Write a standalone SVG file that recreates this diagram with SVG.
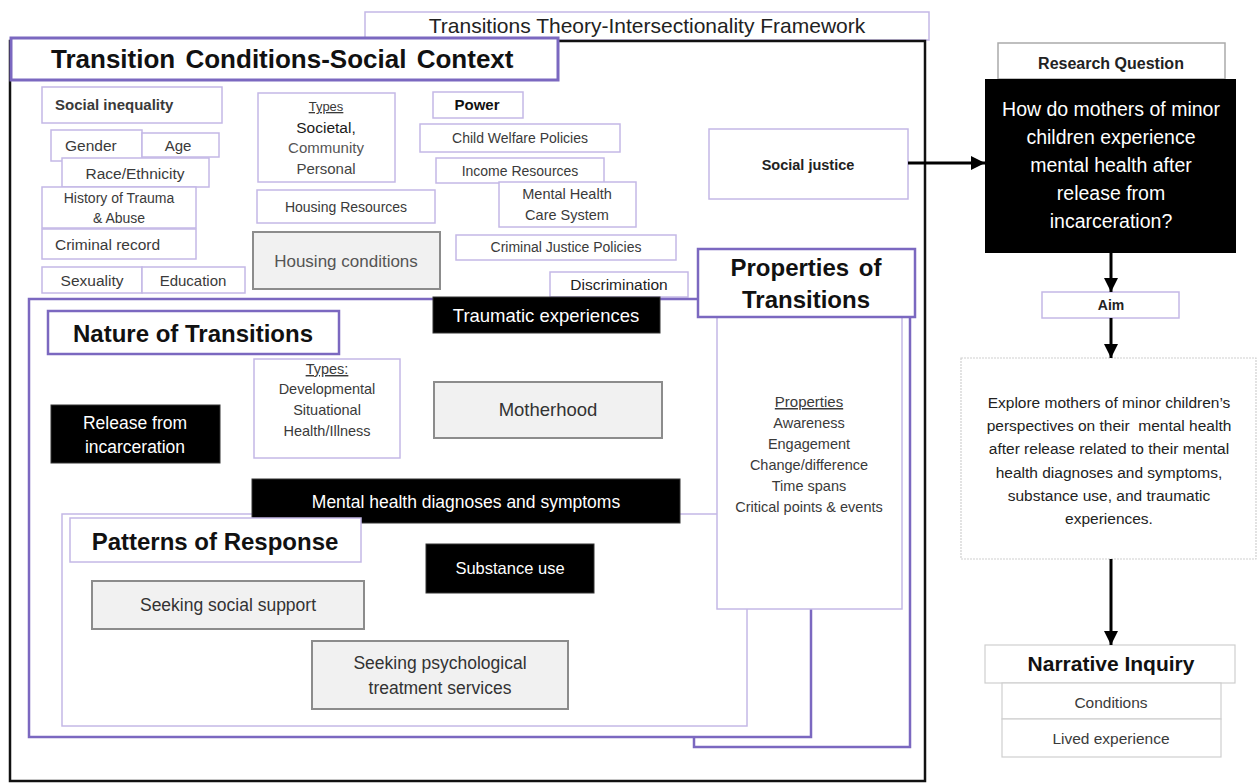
<svg xmlns="http://www.w3.org/2000/svg" width="1258" height="783" viewBox="0 0 1258 783">
<defs>
<style>
text{font-family:"Liberation Sans",Arial,sans-serif;}
.lp{fill:#fff;stroke:#c4b8e6;stroke-width:1.5;}
.pp{fill:#fff;stroke:#7b68c0;stroke-width:2.5;}
.gr{fill:#f1f1f1;stroke:#8c8c8c;stroke-width:2;}
.bk{fill:#000;stroke:#333;stroke-width:1;}
.gy{fill:#fff;stroke:#cfcfcf;stroke-width:1.2;}
.t{fill:#3a3a3a;text-anchor:middle;}
.ts{fill:#3a3a3a;text-anchor:start;}
.w{fill:#fff;text-anchor:middle;}
.hb{font-weight:bold;fill:#111;}
.con{stroke:#000;stroke-width:3;fill:none;}
</style>
<marker id="ah" markerUnits="userSpaceOnUse" markerWidth="15" markerHeight="15" refX="14" refY="7" orient="auto">
<path d="M0,0 L14,7 L0,14 z" fill="#000"/>
</marker>
</defs>
<rect width="1258" height="783" fill="#fff"/>

<g id="framework">
<rect x="365" y="12" width="564" height="28" class="lp"/>
<text x="647" y="33" class="t" font-size="21" style="fill:#222">Transitions Theory-Intersectionality Framework</text>
</g>
<g id="outer">
<rect x="10" y="41" width="915" height="740" fill="none" stroke="#111" stroke-width="2.5"/>
</g>
<g id="title">
<rect x="11" y="38" width="547" height="42" fill="#fff" stroke="#7b68c0" stroke-width="3"/>
<text x="51" y="68" class="hb" font-size="26" text-anchor="start" word-spacing="3">Transition Conditions-Social Context</text>
</g>

<g id="social-inequality"><rect x="42" y="87" width="180" height="36" class="lp"/><text x="55" y="110" class="ts" font-size="15" font-weight="bold">Social inequality</text></g>
<g id="gender"><rect x="51" y="130" width="91" height="31" class="lp"/><text x="65" y="151" class="ts" font-size="15.5">Gender</text></g>
<g id="age"><rect x="142" y="133" width="77" height="24" class="lp"/><text x="178" y="151" class="t" font-size="15">Age</text></g>
<g id="race"><rect x="62" y="158" width="147" height="29" class="lp"/><text x="135" y="179" class="t" font-size="15.5">Race/Ethnicity</text></g>
<g id="history"><rect x="42" y="187" width="154" height="41" class="lp"/><text x="119" y="203" class="t" font-size="14">History of Trauma</text><text x="119" y="223" class="t" font-size="14">&amp; Abuse</text></g>
<g id="criminal-record"><rect x="42" y="229" width="154" height="30" class="lp"/><text x="55" y="250" class="ts" font-size="15.5">Criminal record</text></g>
<g id="sexuality"><rect x="42" y="267" width="100" height="26" class="lp"/><text x="92" y="286" class="t" font-size="15.5">Sexuality</text></g>
<g id="education"><rect x="142" y="267" width="103" height="26" class="lp"/><text x="193" y="286" class="t" font-size="15">Education</text></g>

<g id="types-context"><rect x="258" y="93" width="137" height="89" class="lp"/>
<text x="326" y="111" class="t" font-size="13" text-decoration="underline">Types</text>
<text x="326" y="133" class="t" font-size="15.5" style="fill:#1a1a1a">Societal,</text>
<text x="326" y="153" class="t" font-size="15" style="fill:#555">Community</text>
<text x="326" y="174" class="t" font-size="15" style="fill:#444">Personal</text></g>
<g id="housing-resources"><rect x="257" y="190" width="178" height="33" class="lp"/><text x="346" y="212" class="t" font-size="14">Housing Resources</text></g>
<g id="housing-conditions"><rect x="253" y="232" width="187" height="57" class="gr"/><text x="346" y="267" class="t" font-size="17" style="fill:#555">Housing conditions</text></g>

<g id="power"><rect x="433" y="92" width="90" height="26" class="lp"/><text x="477" y="110" class="t" font-size="15" font-weight="bold" style="fill:#111">Power</text></g>
<g id="child-welfare"><rect x="420" y="124" width="200" height="28" class="lp"/><text x="520" y="143" class="t" font-size="14">Child Welfare Policies</text></g>
<g id="income"><rect x="436" y="158" width="168" height="25" class="lp"/><text x="520" y="176" class="t" font-size="14">Income Resources</text></g>
<g id="mental-health-care"><rect x="499" y="182" width="137" height="45" class="lp"/><text x="567" y="199" class="t" font-size="14.5">Mental Health</text><text x="567" y="220" class="t" font-size="14.5">Care System</text></g>
<g id="criminal-justice"><rect x="456" y="235" width="220" height="25" class="lp"/><text x="566" y="252" class="t" font-size="14">Criminal Justice Policies</text></g>
<g id="discrimination"><rect x="550" y="272" width="138" height="25" class="lp"/><text x="619" y="290" class="t" font-size="15.5" style="fill:#222">Discrimination</text></g>
<g id="social-justice"><rect x="709" y="129" width="199" height="70" class="lp"/><text x="808" y="170" class="t" font-size="14.5" font-weight="bold" style="fill:#222">Social justice</text></g>

<g id="properties-outer"><rect x="694" y="300" width="216" height="447" fill="#fff" stroke="#7b68c0" stroke-width="2.5"/></g>
<g id="nature"><rect x="29" y="299" width="782" height="438" fill="#fff" stroke="#7b68c0" stroke-width="2.5"/></g>
<g id="nature-title"><rect x="48" y="311" width="291" height="43" class="pp" stroke-width="2"/><text x="193" y="342" class="hb" font-size="24" text-anchor="middle">Nature of Transitions</text></g>
<g id="traumatic"><rect x="433" y="297" width="227" height="36" class="bk"/><text x="546" y="322" class="w" font-size="18.5">Traumatic experiences</text></g>
<g id="types-nature"><rect x="254" y="359" width="146" height="99" class="lp"/>
<text x="327" y="374" class="t" font-size="14.5" text-decoration="underline">Types:</text>
<text x="327" y="394" class="t" font-size="14.5">Developmental</text>
<text x="327" y="415" class="t" font-size="14.5">Situational</text>
<text x="327" y="436" class="t" font-size="14.5">Health/Illness</text></g>
<g id="motherhood"><rect x="434" y="382" width="228" height="56" class="gr"/><text x="548" y="416" class="t" font-size="18.5" style="fill:#333">Motherhood</text></g>
<g id="release"><rect x="51" y="405" width="169" height="58" class="bk"/><text x="135" y="429" class="w" font-size="17.5">Release from</text><text x="135" y="453" class="w" font-size="17.5">incarceration</text></g>

<g id="patterns"><rect x="62" y="514" width="685" height="212" class="lp"/></g>
<g id="mental-health"><rect x="252" y="479" width="428" height="44" class="bk"/><text x="466" y="508" class="w" font-size="17.5">Mental health diagnoses and symptoms</text></g>
<g id="patterns-title"><rect x="70" y="518" width="291" height="44" class="lp"/><text x="215" y="550" class="hb" font-size="24" text-anchor="middle">Patterns of Response</text></g>
<g id="substance"><rect x="426" y="544" width="168" height="49" class="bk"/><text x="510" y="574" class="w" font-size="16.5">Substance use</text></g>
<g id="social-support"><rect x="92" y="581" width="272" height="48" class="gr"/><text x="228" y="611" class="t" font-size="17.5" style="fill:#333">Seeking social support</text></g>
<g id="psych"><rect x="312" y="641" width="256" height="68" class="gr"/><text x="440" y="669" class="t" font-size="17.5" style="fill:#333">Seeking psychological</text><text x="440" y="694" class="t" font-size="17.5" style="fill:#333">treatment services</text></g>

<g id="properties-inner"><rect x="717" y="317" width="185" height="292" class="lp"/>
<text x="809" y="407" class="t" font-size="15" text-decoration="underline">Properties</text>
<text x="809" y="428" class="t" font-size="14.5">Awareness</text>
<text x="809" y="449" class="t" font-size="14.5">Engagement</text>
<text x="809" y="470" class="t" font-size="14.5">Change/difference</text>
<text x="809" y="491" class="t" font-size="14.5">Time spans</text>
<text x="809" y="512" class="t" font-size="14.5">Critical points &amp; events</text></g>
<g id="properties-title"><rect x="698" y="249" width="217" height="68" class="pp"/><text x="806" y="276" class="hb" font-size="24" text-anchor="middle" word-spacing="3">Properties of</text><text x="806" y="308" class="hb" font-size="24" text-anchor="middle">Transitions</text></g>

<g id="rq-header"><rect x="998" y="43" width="227" height="36" fill="#fff" stroke="#aaa" stroke-width="1.5"/><text x="1111" y="69" class="t" font-size="16" font-weight="bold" style="fill:#222">Research Question</text></g>
<g id="rq"><rect x="985" y="79" width="251" height="174" fill="#000"/>
<text x="1111" y="116" class="w" font-size="19.5">How do mothers of minor</text>
<text x="1111" y="144" class="w" font-size="19.5">children experience</text>
<text x="1111" y="172" class="w" font-size="19.5">mental health after</text>
<text x="1111" y="200" class="w" font-size="19.5">release from</text>
<text x="1111" y="228" class="w" font-size="19.5">incarceration?</text></g>
<g id="aim"><rect x="1042" y="292" width="137" height="26" class="lp"/><text x="1111" y="310" class="t" font-size="14" font-weight="bold" style="fill:#222">Aim</text></g>
<g id="explore"><rect x="961" y="358" width="295" height="201" fill="#fff" stroke="#d0d0d0" stroke-width="1.2" stroke-dasharray="2,1"/>
<text x="1109" y="408" class="t" font-size="15.5" style="fill:#222">Explore mothers of minor children’s</text>
<text x="1109" y="431" class="t" font-size="15.5" style="fill:#222" xml:space="preserve">perspectives on their  mental health</text>
<text x="1109" y="454" class="t" font-size="15.5" style="fill:#222">after release related to their mental</text>
<text x="1109" y="478" class="t" font-size="15.5" style="fill:#222">health diagnoses and symptoms,</text>
<text x="1109" y="501" class="t" font-size="15.5" style="fill:#222">substance use, and traumatic</text>
<text x="1109" y="524" class="t" font-size="15.5" style="fill:#222">experiences.</text></g>
<g id="narrative"><rect x="985" y="645" width="250" height="38" class="gy"/><text x="1111" y="671" class="hb" font-size="21" text-anchor="middle">Narrative Inquiry</text></g>
<g id="conditions"><rect x="1002" y="683" width="219" height="36" class="gy"/><text x="1111" y="708" class="t" font-size="15.5">Conditions</text></g>
<g id="lived"><rect x="1002" y="719" width="219" height="38" class="gy"/><text x="1111" y="744" class="t" font-size="15.5">Lived experience</text></g>

<g id="connectors">
<line x1="908" y1="163" x2="985" y2="163" class="con" marker-end="url(#ah)"/>
<line x1="1111" y1="253" x2="1111" y2="292" class="con" marker-end="url(#ah)"/>
<line x1="1111" y1="318" x2="1111" y2="358" class="con" marker-end="url(#ah)"/>
<line x1="1111" y1="559" x2="1111" y2="645" class="con" marker-end="url(#ah)"/>
</g>
</svg>
